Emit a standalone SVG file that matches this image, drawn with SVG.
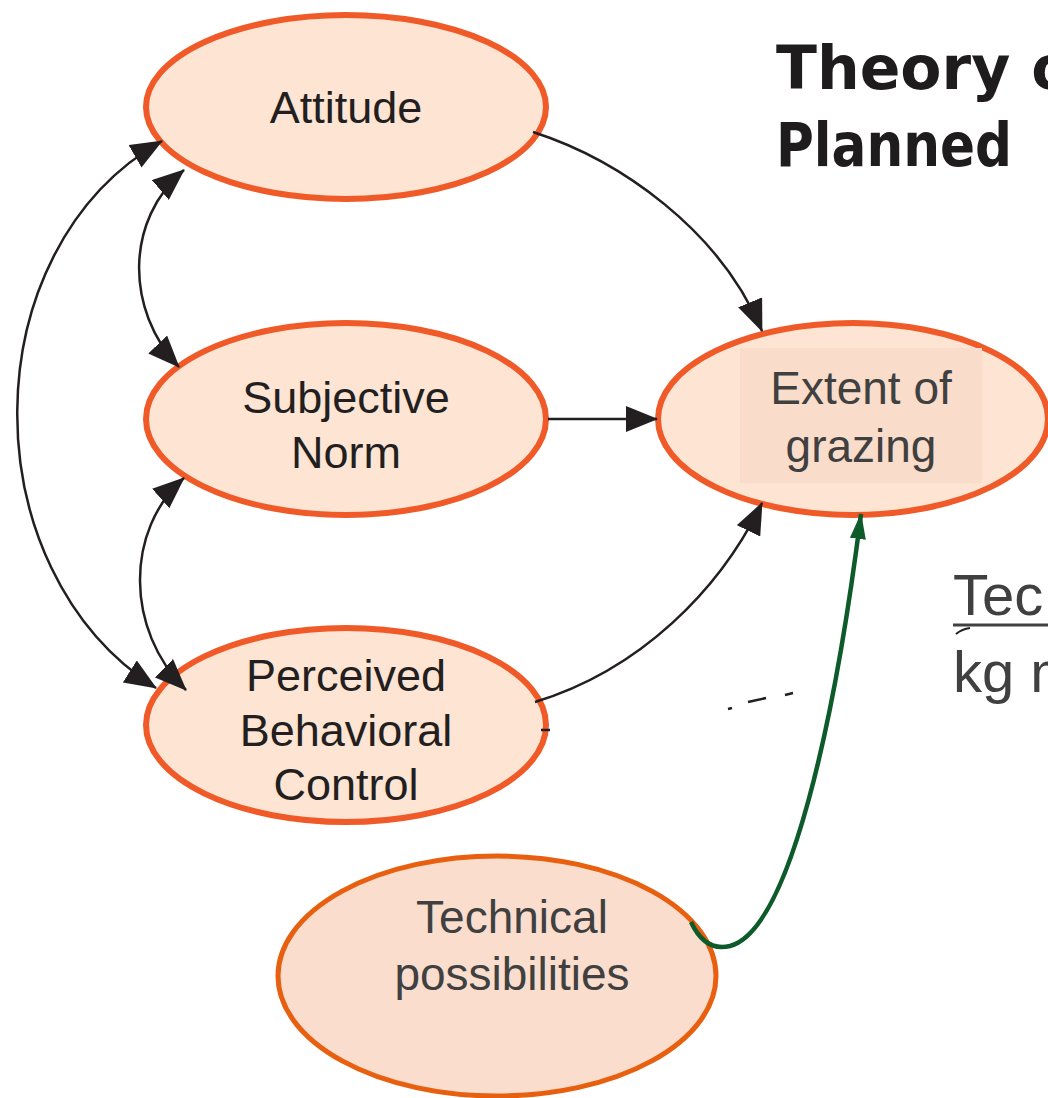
<svg xmlns="http://www.w3.org/2000/svg" width="1048" height="1098" viewBox="0 0 1048 1098">
<style>
.node{fill:#FDE4D3;stroke:#EF5A28;stroke-width:6}
.gill{font-family:"Liberation Sans","Lato",sans-serif;font-size:45px;fill:#231F20;text-anchor:middle}
.gray{font-family:"Liberation Sans",Arial,sans-serif;font-size:46px;fill:#404040;text-anchor:middle}
.title{font-family:"DejaVu Sans","Liberation Sans",sans-serif;font-weight:bold;font-size:60px;fill:#1E1C1C}
.conn{fill:none;stroke:#231F20;stroke-width:2.5}
</style>
<defs>
<marker id="ah" markerUnits="userSpaceOnUse" markerWidth="32" markerHeight="26" refX="31" refY="13" orient="auto-start-reverse" viewBox="0 0 32 26">
<path d="M0,0 L32,13 L0,26 z" fill="#231F20"/>
</marker>
<marker id="gh" markerUnits="userSpaceOnUse" markerWidth="26" markerHeight="18" refX="25" refY="9" orient="auto" viewBox="0 0 26 18">
<path d="M0,1 L26,9 L0,17 z" fill="#0D5A2B"/>
</marker>
</defs>
<rect width="1048" height="1098" fill="#FFFFFF"/>

<g id="title">
<text class="title" x="776" y="89">Theory of</text>
<text class="title" x="776" y="166" textLength="236" lengthAdjust="spacingAndGlyphs">Planned</text>
</g>

<g id="node-attitude">
<ellipse class="node" cx="346" cy="107" rx="200" ry="92"/>
<text class="gill" x="346" y="123">Attitude</text>
</g>
<g id="node-subjective-norm">
<ellipse class="node" cx="346" cy="419" rx="200" ry="96"/>
<text class="gill" x="346" y="413">Subjective</text>
<text class="gill" x="346" y="468">Norm</text>
</g>
<g id="node-pbc">
<ellipse class="node" cx="346" cy="725" rx="200" ry="97"/>
<text class="gill" x="346" y="691">Perceived</text>
<text class="gill" x="346" y="746">Behavioral</text>
<text class="gill" x="346" y="800">Control</text>
</g>
<g id="node-extent">
<ellipse class="node" cx="853" cy="419" rx="195" ry="96"/>
<rect x="740" y="348" width="242" height="135" fill="#FADCCB"/>
<text class="gray" x="861" y="404">Extent of</text>
<text class="gray" x="861" y="462">grazing</text>
</g>
<g id="node-technical">
<ellipse cx="497" cy="976" rx="219" ry="120" fill="#FADDCD" stroke="#E8600F" stroke-width="5"/>
<text class="gray" x="512" y="933">Technical</text>
<text class="gray" x="512" y="990">possibilities</text>
</g>

<g id="side-text">
<text x="953" y="615" font-family="Liberation Sans,Arial,sans-serif" font-size="58" fill="#404040">Tec</text>
<line x1="953" y1="625" x2="1048" y2="625" stroke="#404040" stroke-width="3"/>
<text x="953" y="692" font-family="Liberation Sans,Arial,sans-serif" font-size="58" fill="#404040">kg m</text>
</g>

<g id="connectors">
<path class="conn" d="M533 132 C620 160 720 230 762 331" marker-end="url(#ah)"/>
<path class="conn" d="M548 419 L657 419" marker-end="url(#ah)"/>
<path class="conn" d="M535 702 C640 670 720 590 762 503" marker-end="url(#ah)"/>
<path class="conn" d="M162 141 C-30 250 -30 570 156 688" marker-start="url(#ah)" marker-end="url(#ah)"/>
<path class="conn" d="M184 170 C125 220 125 310 179 367" marker-start="url(#ah)" marker-end="url(#ah)"/>
<path class="conn" d="M184 478 C125 530 125 630 186 690" marker-start="url(#ah)" marker-end="url(#ah)"/>
<line x1="541" y1="730" x2="550" y2="730" stroke="#231F20" stroke-width="2.5"/>
<path d="M728 709 L732 708 M748 702 L766 698 M785 695 L793 693" stroke="#231F20" stroke-width="2.5" fill="none"/>
<path d="M956 634 Q962 629 970 628" stroke="#231F20" stroke-width="2" fill="none"/>
<path d="M691 922 Q705 952 730 946 C790 930 835 720 861 514" fill="none" stroke="#0D5A2B" stroke-width="4.5" marker-end="url(#gh)"/>
</g>
</svg>
